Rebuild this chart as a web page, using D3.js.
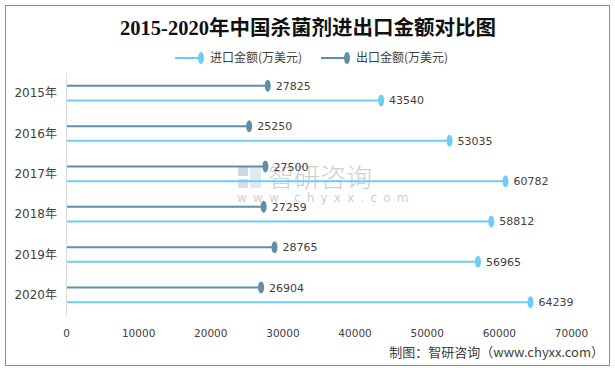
<!DOCTYPE html>
<meta charset="utf-8">
<script src="https://d3js.org/d3.v7.min.js"></script>
<style>
  body { margin: 0; background: #fff; }
  text { font-family: "DejaVu Sans", "Noto Sans CJK SC", sans-serif; }
</style>
<div id="chart"></div>
<script>

// data
const years = ["2015年", "2016年", "2017年", "2018年", "2019年", "2020年"];
const importVals = [43540, 53035, 60782, 58812, 56965, 64239];
const exportVals = [27825, 25250, 27500, 27259, 28765, 26904];
const xTicks = [0, 10000, 20000, 30000, 40000, 50000, 60000, 70000];
const seriesNames = ["出口金额(万美元)", "进口金额(万美元)"];

const W = 615, H = 371;
const importColor = "#6dcdf4";
const exportColor = "#5d8fa8";
const textColor = "#404040";

const svg = d3.select("#chart").append("svg")
  .attr("width", W)
  .attr("height", H);

// outer frame
svg.append("rect")
  .attr("x", 5.5).attr("y", 5.5)
  .attr("width", 604).attr("height", 360)
  .attr("fill", "#fff")
  .attr("stroke", "#8c8c8c")
  .attr("stroke-width", 1);

// scales
const x = d3.scaleLinear().domain([0, 70000]).range([67, 572]);
const y = d3.scaleBand().domain(years).range([73, 315]);
const ySub = d3.scalePoint().domain(seriesNames).range([0, y.bandwidth()]).padding(0.88);

// title
svg.append("text")
  .attr("x", 308).attr("y", 35)
  .attr("text-anchor", "middle")
  .style("font-family", "'Liberation Serif', 'Noto Sans CJK SC', serif")
  .style("font-size", "20.5px")
  .style("font-weight", "bold")
  .attr("fill", "#111")
  .text("2015-2020年中国杀菌剂进出口金额对比图");

// watermark
const wm = svg.append("g").attr("opacity", 0.55);
wm.append("rect").attr("x", 238).attr("y", 167).attr("width", 10).attr("height", 9).attr("fill", "#9fb9d3");
wm.append("rect").attr("x", 238).attr("y", 179).attr("width", 10).attr("height", 9).attr("fill", "#b8c8d8");
wm.append("rect").attr("x", 250).attr("y", 167).attr("width", 11).attr("height", 21).attr("fill", "#c9d6e3");
wm.append("text")
  .attr("x", 268).attr("y", 187)
  .style("font-size", "26px")
  .style("font-family", "'Noto Sans CJK SC', sans-serif")
  .style("font-weight", "300")
  .attr("fill", "#a8a8a8")
  .text("智研咨询");
wm.append("text")
  .attr("x", 237).attr("y", 202)
  .style("font-size", "12px")
  .style("letter-spacing", "6.2px")
  .attr("fill", "#a8a8a8")
  .text("www.chyxx.com");

// vertical axis line
svg.append("line")
  .attr("x1", x(0) - 0.5).attr("x2", x(0) - 0.5)
  .attr("y1", y.range()[0]).attr("y2", y.range()[1])
  .attr("stroke", "#d9d9d9");

// x tick labels
svg.selectAll(".xtick")
  .data(xTicks)
  .enter()
  .append("text")
    .attr("x", d => x(d) - 0.5)
    .attr("y", 337)
    .attr("text-anchor", "middle")
    .style("font-size", "10.5px")
    .attr("fill", textColor)
    .text(d => d);

// category labels
svg.selectAll(".ylab")
  .data(years)
  .enter()
  .append("text")
    .attr("x", 57)
    .attr("y", d => y(d) + y.bandwidth() / 2 + 4)
    .attr("text-anchor", "end")
    .style("font-size", "12px")
    .attr("fill", textColor)
    .text(d => d);

// draw one series of lollipops
function drawSeries(vals, name, color) {
  const g = svg.append("g");
  const cy = (d, i) => y(years[i]) + ySub(name);
  g.selectAll("line")
    .data(vals)
    .enter()
    .append("line")
      .attr("x1", x(0))
      .attr("x2", d => x(d))
      .attr("y1", cy).attr("y2", cy)
      .attr("stroke", color)
      .attr("stroke-width", 2);
  g.selectAll("ellipse")
    .data(vals)
    .enter()
    .append("ellipse")
      .attr("cx", d => x(d))
      .attr("cy", cy)
      .attr("rx", 3)
      .attr("ry", 6)
      .attr("fill", color);
  g.selectAll("text")
    .data(vals)
    .enter()
    .append("text")
      .attr("x", d => x(d) + 8)
      .attr("y", (d, i) => cy(d, i) + 4)
      .style("font-size", "11px")
      .attr("fill", textColor)
      .text(d => d);
}
drawSeries(exportVals, seriesNames[0], exportColor);
drawSeries(importVals, seriesNames[1], importColor);

// legend
const legend = [
  {name: seriesNames[1], color: importColor, x: 175},
  {name: seriesNames[0], color: exportColor, x: 321}
];
const lg = svg.selectAll(".legend")
  .data(legend)
  .enter()
  .append("g")
    .attr("transform", d => "translate(" + d.x + ",58)");
lg.append("line")
  .attr("x1", 0).attr("x2", 25)
  .attr("stroke", d => d.color)
  .attr("stroke-width", 2);
lg.append("ellipse")
  .attr("cx", 26).attr("rx", 3).attr("ry", 6)
  .attr("fill", d => d.color);
lg.append("text")
  .attr("x", 35).attr("y", 4)
  .style("font-size", "12px")
  .style("font-family", "'Noto Sans CJK SC', sans-serif")
  .attr("fill", textColor)
  .text(d => d.name);

// source note
svg.append("text")
  .attr("x", 604).attr("y", 357)
  .attr("text-anchor", "end")
  .style("font-size", "13px")
  .style("font-family", "'Noto Sans CJK SC', sans-serif")
  .attr("fill", textColor)
  .text("制图：智研咨询（www.chyxx.com）");

</script>
